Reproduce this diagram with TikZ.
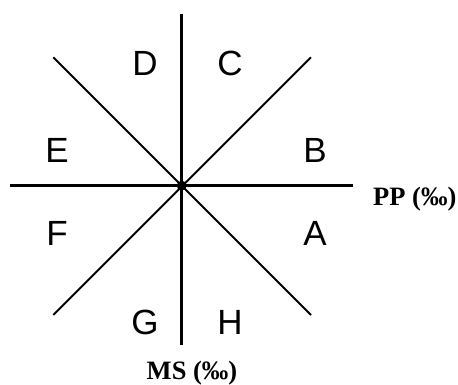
\documentclass[tikz,border=0pt]{standalone}
\usepackage{fontspec}
\setmainfont{Liberation Serif}
\setsansfont{Liberation Sans}
\usepackage{tikz}
\definecolor{AxisBlack}{HTML}{000000}

\begin{document}
\begin{tikzpicture}[x=1pt, y=-1pt,
  every node/.style={inner sep=0pt},
  sector/.style={font=\sffamily\fontsize{35}{35}\selectfont},
  axislabel/.style={font=\rmfamily\bfseries\fontsize{26.5}{26.5}\selectfont}]
  \useasboundingbox (0,0) rectangle (458,385);

  \coordinate (O) at (181.7,185.7);
  \coordinate (top) at (181.7,14);
  \coordinate (bottom) at (181.7,345);
  \coordinate (left) at (10,185.7);
  \coordinate (right) at (352.7,185.7);
  \coordinate (ul) at (53.3,57.3);
  \coordinate (ur) at (311,57.3);
  \coordinate (ll) at (53.3,315);
  \coordinate (lr) at (311,315);

  \draw[AxisBlack, line width=2pt] (ul) -- (lr);
  \draw[AxisBlack, line width=2pt] (ur) -- (ll);
  \draw[AxisBlack, line width=3.2pt] (top) -- (bottom);
  \draw[AxisBlack, line width=3.2pt] (left) -- (right);
  \fill[AxisBlack] (O) circle (5);

  \node[sector] (D) at (145,63) {D};
  \node[sector] (C) at (230,63) {C};
  \node[sector] (E) at (57,150) {E};
  \node[sector] (B) at (315,150) {B};
  \node[sector] (F) at (57,233) {F};
  \node[sector] (A) at (315,233) {A};
  \node[sector] (G) at (145,322) {G};
  \node[sector] (H) at (230,322) {H};

  \node[axislabel, anchor=west] (pp) at (373,199) {PP (‰)};
  \node[axislabel] (ms) at (192,373) {MS (‰)};
\end{tikzpicture}
\end{document}
